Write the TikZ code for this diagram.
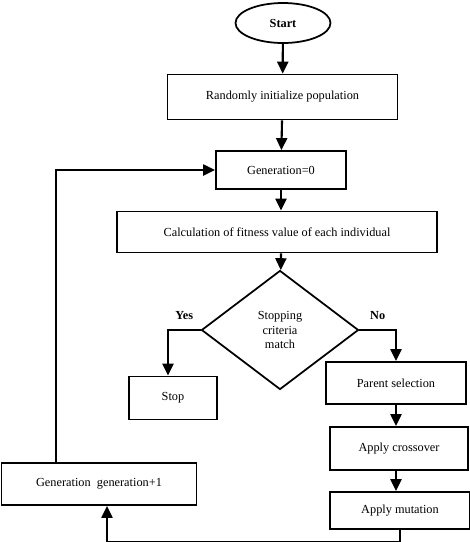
\documentclass[tikz,border=0pt]{standalone}
\usepackage{fontspec}
\setmainfont{Liberation Serif}
\usetikzlibrary{arrows.meta,shapes.geometric}

\begin{document}
\begin{tikzpicture}[
  font=\fontsize{7}{8.5}\selectfont,
  block/.style={draw,line width=1pt,align=center},
  signal/.style={-{Triangle[length=2.4mm,width=2.2mm]},line width=1.2pt}
]
  \useasboundingbox (0,0) rectangle (9.4,-10.84);
  \node[draw,ellipse,line width=1pt,minimum width=19mm,minimum height=8mm,font=\fontsize{7}{8.5}\selectfont\bfseries] (start) at (5.66,-0.46) {Start};
  \node[block,minimum width=46mm,minimum height=9mm] (init) at (5.65,-1.94) {Randomly initialize population};
  \node[block,minimum width=26mm,minimum height=7.6mm] (gen0) at (5.62,-3.40) {Generation=0};
  \node[block,minimum width=64mm,minimum height=8.2mm] (fitness) at (5.54,-4.64) {Calculation of fitness value of each individual};
  \node[draw,diamond,line width=1pt,inner sep=0pt,minimum width=31.4mm,minimum height=23.8mm,align=center] (check) at (5.60,-6.60) {Stopping\\criteria\\match};
  \node[block,minimum width=17.6mm,minimum height=8.6mm] (stop) at (3.46,-7.96) {Stop};
  \node[block,minimum width=28mm,minimum height=8.4mm] (parent) at (7.92,-7.66) {Parent selection};
  \node[block,minimum width=27.6mm,minimum height=8.6mm] (crossover) at (7.98,-8.97) {Apply crossover};
  \node[block,minimum width=28mm,minimum height=7.4mm] (mutation) at (8.00,-10.21) {Apply mutation};
  \node[block,minimum width=39mm,minimum height=8.4mm] (update) at (1.98,-9.68) {Generation\enspace generation+1};

  \path[signal]
    (start) edge (init)
    (init) edge (gen0)
    (gen0) edge (gen0 |- fitness.north)
    (gen0 |- fitness.south) edge (check)
    (parent) edge (parent |- crossover.north)
    (parent |- crossover.south) edge (parent |- mutation.north);

  \draw[signal] (check.west) -| node[pos=0.25,above=2pt,font=\fontsize{7}{8.5}\selectfont\bfseries] (yes) {Yes} ([xshift=-1mm]stop.north);
  \draw[signal] (check.east) -| node[pos=0.25,above=2pt,font=\fontsize{7}{8.5}\selectfont\bfseries] (no) {No} (parent.north);
  \draw[signal] (mutation.south) -- ++(0,-0.24) -| ([xshift=1.6mm]update.south);
  \draw[signal] ([xshift=-8.6mm]update.north) |- (gen0.west);
\end{tikzpicture}
\end{document}
